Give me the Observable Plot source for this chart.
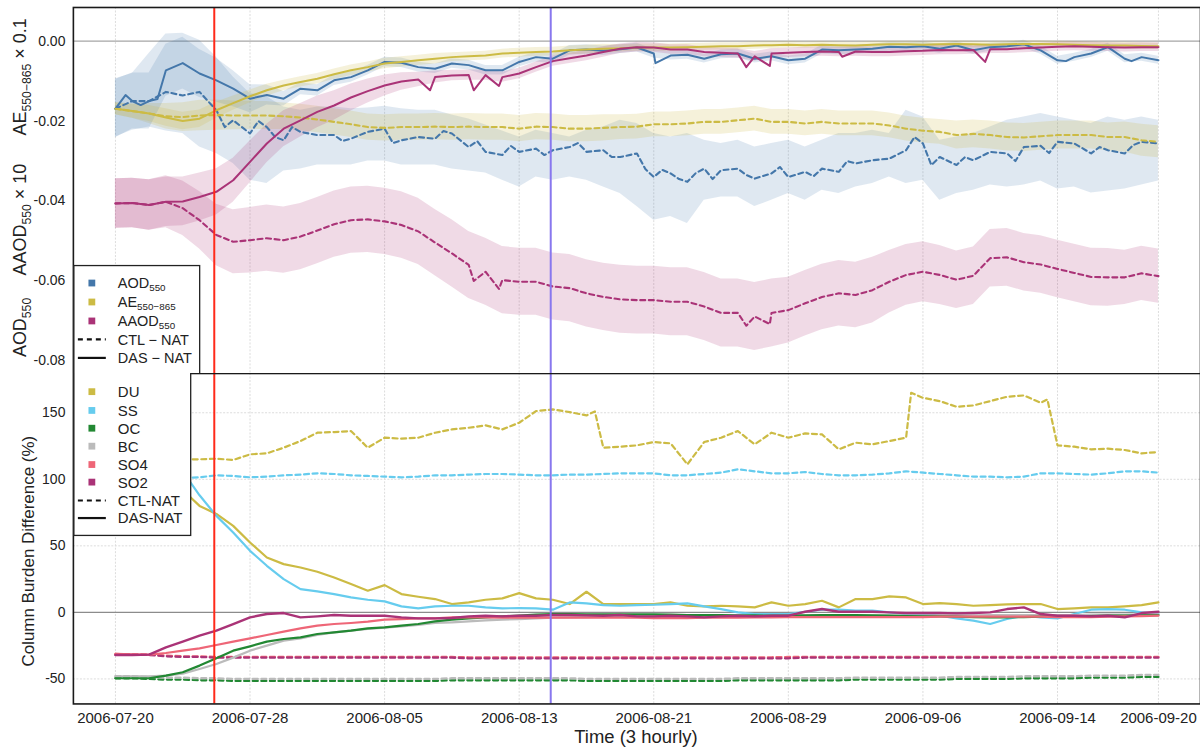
<!DOCTYPE html>
<html><head><meta charset="utf-8">
<script src="https://cdn.jsdelivr.net/npm/d3@7"></script>
<script src="https://cdn.jsdelivr.net/npm/@observablehq/plot@0.6"></script>
<style>
body{margin:0;background:#fff;}
#chart{width:1200px;height:752px;overflow:hidden;position:relative;background:#fff;}
#chart svg{display:block;}
</style></head><body><div id="chart"></div>
<script>
// ---------- time axis ----------
const startDate = "2006-07-20";            // first value of every daily array below
const tickDates = ["2006-07-20","2006-07-28","2006-08-05","2006-08-13","2006-08-21","2006-08-29","2006-09-06","2006-09-14","2006-09-20"];
const markerDates = ["2006-07-25T21:00Z","2006-08-14T21:00Z"];
const xDomainDates = ["2006-07-17T12:00Z","2006-09-22T12:00Z"];
const topTicks = [0, -0.02, -0.04, -0.06, -0.08];
const topDomain = [-0.08325, 0.00842];
const bottomTicks = [-50, 0, 50, 100, 150];
const bottomDomain = [-68.8, 179.5];

// ---------- top panel (daily readings) ----------
const aodDAS = [-0.0169,-0.0150,-0.0150,-0.0073,-0.0055,-0.0081,-0.0098,-0.0119,-0.0144,-0.0135,
-0.0144,-0.0119,-0.0123,-0.0098,-0.0090,-0.0073,-0.0052,-0.0054,-0.0065,-0.0069,
-0.0056,-0.0060,-0.0073,-0.0073,-0.0052,-0.0040,-0.0044,-0.0023,-0.0021,-0.0024,
-0.0020,-0.0016,-0.0031,-0.0036,-0.0034,-0.0044,-0.0033,-0.0031,-0.0044,-0.0038,
-0.0048,-0.0044,-0.0021,-0.0023,-0.0021,-0.0019,-0.0014,-0.0015,-0.0013,-0.0019,
-0.0011,-0.0023,-0.0015,-0.0013,-0.0008,-0.0023,-0.0048,-0.0040,-0.0031,-0.0015,
-0.0044,-0.0040,-0.0048];
// short-lived excursions read between the daily samples: [day offset, value]
const aodDASspikes = [[0.6,-0.0135],[1.5,-0.0160],[2.5,-0.0145],[32.1,-0.0055],[56.5,-0.0050],[60.4,-0.0050]];
const aodDASspread = [0.0073,0.0070,0.0070,0.0065,0.0065,0.0060,0.0055,0.0045,0.0035,0.0025,
0.0018,0.0015,0.0014,0.0013,0.0013,0.0012,0.0012,0.0012,0.0012,0.0012,
0.0012,0.0012,0.0012,0.0012,0.0012,0.0012,0.0012,0.0012,0.0012,0.0012,
0.0011,0.0011,0.0011,0.0011,0.0011,0.0011,0.0011,0.0011,0.0011,0.0011,
0.0011,0.0011,0.0011,0.0011,0.0011,0.0011,0.0011,0.0011,0.0011,0.0011,
0.0010,0.0010,0.0010,0.0010,0.0010,0.0010,0.0010,0.0010,0.0010,0.0010,
0.0010,0.0010,0.0010];
const aodCTL = [-0.0169,-0.0150,-0.0150,-0.0127,-0.0136,-0.0127,-0.0173,-0.0198,-0.0231,-0.0215,
-0.0248,-0.0227,-0.0235,-0.0235,-0.0244,-0.0227,-0.0219,-0.0248,-0.0240,-0.0244,
-0.0231,-0.0265,-0.0277,-0.0285,-0.0277,-0.0269,-0.0273,-0.0265,-0.0277,-0.0273,
-0.0290,-0.0281,-0.0340,-0.0331,-0.0352,-0.0319,-0.0323,-0.0319,-0.0344,-0.0331,
-0.0340,-0.0327,-0.0319,-0.0327,-0.0306,-0.0298,-0.0294,-0.0273,-0.0256,-0.0290,
-0.0310,-0.0298,-0.0277,-0.0281,-0.0265,-0.0262,-0.0252,-0.0256,-0.0281,-0.0273,
-0.0281,-0.0252,-0.0256];
const aodCTLspikes = [[5.5,-0.0150],[6.5,-0.0215],[8.5,-0.0200],[9.5,-0.0240],[10.5,-0.0215],[13.5,-0.0250],[16.5,-0.0255],[19.5,-0.0225],[21.5,-0.0250],[23.5,-0.0262],
[25.5,-0.0285],[27.5,-0.0255],[29.5,-0.0290],[31.5,-0.0320],[32.5,-0.0322],[33.5,-0.0345],[34.5,-0.0330],[35.5,-0.0345],[37.5,-0.0335],[39.5,-0.0315],
[41.5,-0.0338],[43.5,-0.0300],[47.5,-0.0240],[48.5,-0.0310],[50.5,-0.0290],[53.5,-0.0300],[55.5,-0.0280],[58.5,-0.0265],[60.5,-0.0260]];
const aodCTLlo = [-0.0240,-0.0223,-0.0215,-0.0225,-0.0231,-0.0265,-0.0281,-0.0306,-0.0348,-0.0356,
-0.0325,-0.0320,-0.0310,-0.0310,-0.0310,-0.0300,-0.0300,-0.0310,-0.0310,-0.0310,
-0.0320,-0.0325,-0.0330,-0.0348,-0.0365,-0.0340,-0.0348,-0.0340,-0.0348,-0.0365,
-0.0381,-0.0414,-0.0448,-0.0439,-0.0456,-0.0398,-0.0390,-0.0390,-0.0414,-0.0398,
-0.0381,-0.0398,-0.0373,-0.0381,-0.0365,-0.0356,-0.0340,-0.0356,-0.0348,-0.0398,
-0.0381,-0.0373,-0.0360,-0.0365,-0.0360,-0.0350,-0.0370,-0.0365,-0.0380,-0.0375,
-0.0370,-0.0360,-0.0350];
const aodCTLhi = [-0.0094,-0.0081,-0.0031,0.0018,0.0020,0.0002,-0.0040,-0.0090,-0.0131,-0.0139,
-0.0165,-0.0173,-0.0165,-0.0165,-0.0169,-0.0167,-0.0163,-0.0169,-0.0173,-0.0173,
-0.0185,-0.0195,-0.0210,-0.0225,-0.0240,-0.0223,-0.0231,-0.0240,-0.0223,-0.0215,
-0.0198,-0.0206,-0.0231,-0.0240,-0.0231,-0.0248,-0.0256,-0.0248,-0.0265,-0.0256,
-0.0248,-0.0265,-0.0248,-0.0231,-0.0231,-0.0223,-0.0231,-0.0173,-0.0190,-0.0248,
-0.0240,-0.0231,-0.0215,-0.0198,-0.0190,-0.0181,-0.0190,-0.0198,-0.0206,-0.0190,
-0.0198,-0.0190,-0.0198];
const aeDAS = [-0.0169,-0.0175,-0.0181,-0.0191,-0.0200,-0.0194,-0.0173,-0.0155,-0.0138,-0.0123,
-0.0111,-0.0102,-0.0094,-0.0083,-0.0073,-0.0065,-0.0056,-0.0052,-0.0048,-0.0044,
-0.0040,-0.0038,-0.0036,-0.0031,-0.0029,-0.0027,-0.0026,-0.0023,-0.0021,-0.0019,
-0.0018,-0.0016,-0.0016,-0.0016,-0.0015,-0.0014,-0.0013,-0.0013,-0.0011,-0.0010,
-0.0009,-0.0010,-0.0009,-0.0010,-0.0011,-0.0009,-0.0008,-0.0008,-0.0009,-0.0008,
-0.0007,-0.0008,-0.0009,-0.0008,-0.0007,-0.0007,-0.0008,-0.0009,-0.0010,-0.0011,
-0.0011,-0.0012,-0.0013];
const aeDASspread = [0.0015,0.0018,0.0020,0.0022,0.0022,0.0022,0.0020,0.0018,0.0016,0.0015,
0.0013,0.0013,0.0013,0.0013,0.0013,0.0013,0.0013,0.0013,0.0013,0.0013,
0.0011,0.0011,0.0011,0.0011,0.0011,0.0011,0.0011,0.0011,0.0011,0.0011,
0.0009,0.0009,0.0009,0.0009,0.0009,0.0009,0.0009,0.0009,0.0009,0.0009,
0.0008,0.0008,0.0008,0.0008,0.0008,0.0008,0.0008,0.0008,0.0008,0.0008,
0.0008,0.0008,0.0008,0.0008,0.0008,0.0008,0.0008,0.0008,0.0008,0.0008,
0.0008,0.0008,0.0008];
const aeCTL = [-0.0169,-0.0175,-0.0181,-0.0188,-0.0190,-0.0186,-0.0185,-0.0186,-0.0186,-0.0186,
-0.0188,-0.0191,-0.0196,-0.0202,-0.0208,-0.0215,-0.0217,-0.0215,-0.0215,-0.0214,
-0.0215,-0.0214,-0.0215,-0.0215,-0.0219,-0.0214,-0.0215,-0.0219,-0.0219,-0.0217,
-0.0215,-0.0214,-0.0208,-0.0208,-0.0206,-0.0202,-0.0202,-0.0198,-0.0194,-0.0202,
-0.0202,-0.0206,-0.0202,-0.0206,-0.0206,-0.0206,-0.0211,-0.0219,-0.0224,-0.0227,
-0.0235,-0.0232,-0.0235,-0.0240,-0.0241,-0.0238,-0.0235,-0.0235,-0.0235,-0.0240,
-0.0240,-0.0248,-0.0252];
const aeCTLspread = [0.0015,0.0018,0.0025,0.0032,0.0036,0.0038,0.0038,0.0036,0.0035,0.0035,
0.0033,0.0033,0.0033,0.0033,0.0033,0.0033,0.0033,0.0033,0.0033,0.0033,
0.0033,0.0033,0.0033,0.0033,0.0033,0.0033,0.0033,0.0033,0.0033,0.0033,
0.0031,0.0031,0.0031,0.0031,0.0031,0.0031,0.0031,0.0031,0.0031,0.0031,
0.0031,0.0031,0.0031,0.0031,0.0031,0.0031,0.0031,0.0031,0.0031,0.0031,
0.0035,0.0035,0.0035,0.0035,0.0035,0.0035,0.0035,0.0035,0.0035,0.0035,
0.0038,0.0040,0.0040];
const aaodDAS = [-0.0406,-0.0405,-0.0410,-0.0402,-0.0401,-0.0390,-0.0377,-0.0348,-0.0302,-0.0256,
-0.0219,-0.0198,-0.0177,-0.0161,-0.0141,-0.0125,-0.0111,-0.0101,-0.0096,-0.0090,
-0.0086,-0.0085,-0.0085,-0.0090,-0.0081,-0.0065,-0.0050,-0.0043,-0.0036,-0.0027,
-0.0019,-0.0015,-0.0016,-0.0021,-0.0021,-0.0027,-0.0029,-0.0031,-0.0038,-0.0031,
-0.0029,-0.0027,-0.0026,-0.0027,-0.0026,-0.0027,-0.0027,-0.0025,-0.0024,-0.0022,
-0.0023,-0.0022,-0.0020,-0.0020,-0.0018,-0.0016,-0.0014,-0.0013,-0.0014,-0.0015,
-0.0016,-0.0015,-0.0015];
const aaodDASspikes = [[18.7,-0.0123],[21.3,-0.0123],[22.8,-0.0112],[37.5,-0.0065],[38.9,-0.0062],[43.2,-0.0039],[51.7,-0.0052]];
const aaodDASspread = [0.0062,0.0062,0.0063,0.0062,0.0061,0.0060,0.0058,0.0055,0.0052,0.0048,
0.0045,0.0042,0.0040,0.0037,0.0034,0.0030,0.0026,0.0022,0.0018,0.0015,
0.0013,0.0013,0.0013,0.0013,0.0013,0.0013,0.0013,0.0013,0.0013,0.0013,
0.0012,0.0012,0.0012,0.0012,0.0012,0.0012,0.0012,0.0012,0.0012,0.0012,
0.0012,0.0012,0.0012,0.0012,0.0012,0.0012,0.0012,0.0012,0.0012,0.0012,
0.0011,0.0011,0.0011,0.0011,0.0011,0.0011,0.0011,0.0011,0.0011,0.0011,
0.0011,0.0011,0.0011];
const aaodCTL = [-0.0406,-0.0405,-0.0410,-0.0402,-0.0418,-0.0448,-0.0485,-0.0502,-0.0498,-0.0493,
-0.0498,-0.0489,-0.0474,-0.0458,-0.0448,-0.0446,-0.0451,-0.0460,-0.0476,-0.0504,
-0.0531,-0.0560,-0.0577,-0.0598,-0.0602,-0.0602,-0.0614,-0.0618,-0.0631,-0.0640,
-0.0646,-0.0648,-0.0648,-0.0652,-0.0652,-0.0664,-0.0680,-0.0680,-0.0689,-0.0680,
-0.0673,-0.0656,-0.0640,-0.0631,-0.0635,-0.0623,-0.0602,-0.0585,-0.0577,-0.0585,
-0.0597,-0.0587,-0.0543,-0.0541,-0.0553,-0.0559,-0.0570,-0.0580,-0.0590,-0.0591,
-0.0591,-0.0581,-0.0588];
const aaodCTLspikes = [[21.3,-0.0600],[22.8,-0.0620],[37.5,-0.0712],[38.9,-0.0708]];
const aaodCTLspread = [0.0062,0.0062,0.0063,0.0065,0.0068,0.0072,0.0077,0.0080,0.0082,0.0083,
0.0083,0.0083,0.0083,0.0083,0.0083,0.0083,0.0083,0.0083,0.0083,0.0083,
0.0084,0.0084,0.0084,0.0084,0.0084,0.0084,0.0084,0.0084,0.0084,0.0084,
0.0085,0.0085,0.0085,0.0085,0.0085,0.0085,0.0085,0.0085,0.0085,0.0085,
0.0082,0.0082,0.0082,0.0082,0.0082,0.0082,0.0078,0.0076,0.0075,0.0074,
0.0072,0.0072,0.0072,0.0072,0.0072,0.0072,0.0072,0.0072,0.0072,0.0072,
0.0068,0.0068,0.0068];

// ---------- bottom panel (daily readings, %) ----------
const duCTL = [115,115,115,115,115,115,115.5,114.5,118.75,119.5,
123.75,128.75,135,135.5,136.25,123.75,131.25,130.5,131.25,135,
137.5,138.75,140.5,137.5,142.5,151.25,152.5,150.5,148,123.75,
124.5,125.5,128,127,111.25,128,131.25,136.25,126.25,135,
131.25,134.5,133.75,122.5,127.5,126.25,128.75,131.25,161.25,158.75,
154.5,155.5,158.75,162,163,157.5,125.5,124.5,122.5,123,
122,119.5,120.5];
const duCTLspikes = [[47.3,165],[28.5,151],[55.4,160]];
const ssCTL = [101,101,101,101,101,101.5,103,102.5,101.5,102,
103,103.5,104.5,104,103,102.5,102,101.5,102,103,
103,103.5,104,104,103.5,103,103,103.5,103.5,104,
104.5,104.5,104.5,103,103,104,105,107.5,106,104.5,
104.5,105.5,104,103,103,103.5,104.5,106,105,104,
103,102,102,101.5,102,104.5,104.5,104,103.5,104.5,
106,106,105];
const ocCTL = [-49.5,-49.5,-50,-50.5,-50.5,-51,-51,-51.5,-51.5,-51.5,
-51.5,-51.5,-51.5,-51.5,-51.5,-51.5,-51.5,-51.5,-51.5,-51.5,
-51,-51,-51,-51,-51,-51,-51,-51,-51.5,-51.5,
-51.5,-51.5,-51.5,-51.5,-51.5,-51.5,-51.5,-51,-51,-51,
-51,-51,-51,-51,-50.5,-50.5,-50.5,-50.5,-50.5,-50.5,
-50,-50,-50,-50,-49.5,-49.5,-49.5,-49.5,-49,-49,
-49,-48.5,-48.5];
const bcCTL = [-48,-48,-48.5,-49,-49,-49.5,-49.5,-50,-50,-50,
-50,-50,-50,-50,-50,-50,-50,-50,-50,-50,
-49.5,-49.5,-49.5,-49.5,-49.5,-49.5,-49.5,-49.5,-50,-50,
-50,-50,-50,-50,-50,-50,-50,-49.5,-49.5,-49.5,
-49.5,-49.5,-49.5,-49.5,-49,-49,-49,-49,-49,-49,
-48.5,-48.5,-48.5,-48.5,-48,-48,-48,-48,-47.5,-47.5,
-47.5,-47,-47];
const so4CTL = [-31.25,-31.5,-31.75,-32.5,-33,-33,-33.5,-33.5,-33.5,-33.5,
-33.5,-33.5,-33.5,-33.5,-33.5,-33.5,-33.5,-33.5,-33.5,-33.5,
-33.5,-33.75,-33.75,-33.75,-33.75,-33.75,-33.75,-33.75,-33.75,-33.75,
-33.75,-33.75,-33.75,-33.75,-33.75,-33.75,-33.75,-33.75,-33.75,-33.75,
-33.5,-33.5,-33.5,-33.5,-33.5,-33.5,-33.5,-33.5,-33.5,-33.5,
-33.5,-33.5,-33.5,-33.5,-33.5,-33.5,-33.5,-33.5,-33.5,-33.5,
-33.5,-33.5,-33.5];
const so2CTL = [-32,-32,-32,-33,-33.5,-33.5,-34,-34,-34,-34,
-34,-34,-34,-34,-34,-34,-34,-34,-34,-34,
-34,-34.5,-34.5,-34.5,-34.5,-34.5,-34.5,-34.5,-34.5,-34.5,
-34.5,-34.5,-34.5,-34.5,-34.5,-34.5,-34.5,-34.5,-34.5,-34.5,
-34.5,-34,-34,-34,-34,-34,-34,-34,-34,-34,
-34,-34,-34,-34,-34,-34,-34,-34,-34,-34,
-34,-34,-34];
const duDAS = [115,115,110,100,92,80,74,65,52.5,41.25,
36.25,33.75,30.5,26.25,21.25,16.25,20.5,13.75,11.75,10,
6.25,7.5,9.5,10.5,14.5,10.5,9.5,6.25,15.5,6.25,
6.25,6.25,6.25,7.5,5,4.5,5,4.5,3.75,7.5,
5,6.25,8.75,3.75,10,10,12,11.25,6.25,7,
6.25,5,5.5,6,6.25,6.25,2.5,3,3.75,3.75,
4.5,5.5,7.5];
const ssDAS = [101,101,104,110,106,88,72.5,60,46.25,35,
25,17.5,15.75,13.75,11.25,9.5,8.25,4.5,3,4.5,
5,5,3.75,3,3.25,3,2,7.5,6.75,5.5,
5,5.5,5.75,6.25,6.75,4.5,2.5,0,-1.25,-1.25,
-1.25,0.5,2,2,1.25,1.25,0,-1.25,-1.25,-2.5,
-4.5,-6.25,-8.75,-5,-2.5,-3.75,-4.5,-1.25,2,2.5,
2,0,-1.25];
const ocDAS = [-49.5,-49.5,-49.5,-47.5,-45,-40,-34.5,-28.75,-25.5,-22,
-20,-18.75,-16.25,-15,-13.75,-12,-11.25,-10,-8.75,-6.75,
-5.5,-4.5,-3.75,-3,-2.5,-1.75,-1.25,-1.25,-1.5,-1.5,
-1.5,-1.5,-1.5,-1.75,-2,-2,-2,-2.25,-2.25,-2.5,
-2.5,-2.25,-2,-2,-2,-2.25,-2.5,-2.75,-3,-3,
-3.25,-3.5,-3.75,-3.75,-3.5,-3.25,-3,-3,-2.75,-2.5,
-2.5,-2.25,-2];
const bcDAS = [-48,-48,-48,-47.5,-46,-42.5,-38.75,-34,-28.75,-25,
-21.25,-19.5,-17,-15,-13.75,-12.5,-11.5,-10.5,-9.5,-8,
-7.5,-6.75,-6,-5.5,-5,-4.5,-4,-3.75,-3.5,-3.25,
-3,-3,-3,-3,-3,-2.75,-2.75,-2.75,-2.75,-2.75,
-2.5,-2.5,-2.5,-2.5,-2.5,-2.5,-2.5,-2.5,-2.5,-2.25,
-2.25,-2.25,-2,-2,-2,-2,-2,-2,-1.75,-1.75,
-1.75,-1.5,-1.5];
const so4DAS = [-31.25,-31.5,-31.75,-30.5,-28.75,-27,-24.5,-22,-19.5,-17,
-14.5,-12,-10,-8.75,-8,-7,-5.5,-5,-4.5,-4.5,
-3.75,-3.75,-3.75,-4,-4,-4,-4,-4,-4,-4,
-4,-4,-4.25,-4.25,-4.25,-4,-4,-4,-3.75,-3.75,
-3.5,-3.5,-3.5,-3.5,-3.5,-3.5,-3.5,-3.5,-3.5,-3.25,
-3.25,-3.25,-3.25,-3.25,-3.25,-3.25,-3.5,-3.5,-3.5,-3.25,
-3,-2.75,-2.5];
const so2DAS = [-32,-32,-31.75,-26.25,-22,-17.5,-13.75,-8.75,-3.75,-1.25,
-0.5,-3.75,-3,-2,-2.5,-2.5,-2.5,-3.75,-4.5,-4.5,
-4.25,-3,-2.5,-3,-2.5,-2.5,-2,-2,-2.25,-2.5,
-2,-3,-3,-2.5,-3,-3.75,-3,-2.5,-3,-2.5,
-2.5,0.5,2.5,0.5,0.5,0.5,0,-0.5,-0.5,-0.5,
-0.75,-0.5,0,2.5,3.75,-1.25,-2.5,-2.5,-3,-2.5,
-3.75,-0.5,0.5];

// ---------- colours ----------
const C = {aod:"#4477AA", ae:"#CCBB44", aaod:"#AA3377", du:"#CCBB44", ss:"#66CCEE", oc:"#228833", bc:"#BBBBBB", so4:"#EE6677", so2:"#AA3377"};
const markerColors = ["#ff2a1a", "#8877ee"];

// ---------- helpers ----------
const DAY = 864e5;
const t0 = Date.parse(startDate + "T00:00Z");
const dayDate = i => new Date(t0 + i * DAY);
const rowsOf = (vals, extra) => vals.map((v, i) => ({date: dayDate(i), v}))
  .concat((extra || []).map(([d, v]) => ({date: dayDate(d), v})))
  .sort((a, b) => a.date - b.date);
const bandSpread = (vals, s) => vals.map((v, i) => ({date: dayDate(i), lo: v - s[i], hi: v + s[i]}));
const bandLoHi = (lo, hi) => lo.map((l, i) => ({date: dayDate(i), lo: l, hi: hi[i]}));
const tickD = tickDates.map(d => new Date(d + "T00:00Z"));
const xDomain = xDomainDates.map(d => new Date(d));
const markers = markerDates.map(d => new Date(d));
const FONT = '"Liberation Sans", Arial, Helvetica, sans-serif';
const DASH = "5,3.6";

function area(data, color, op) { return Plot.areaY(data, {x: "date", y1: "lo", y2: "hi", fill: color, fillOpacity: op}); }
function line(vals, color, dashed, w, extra) {
  return Plot.lineY(rowsOf(vals, extra), {x: "date", y: "v", stroke: color, strokeWidth: w || 2, strokeDasharray: dashed ? DASH : null});
}
function markerRules() { return markers.map((m, i) => Plot.ruleX([m], {stroke: markerColors[i], strokeWidth: 2})); }

// ---------- top plot ----------
const topPlot = Plot.plot({
  width: 1202, height: 374, marginLeft: 73, marginRight: 0, marginTop: 7, marginBottom: 0,
  style: {fontFamily: FONT, fontSize: "14px", color: "#222", background: "white"},
  x: {type: "utc", domain: xDomain, axis: null},
  y: {domain: topDomain, ticks: topTicks, tickFormat: d => d.toFixed(2), tickSize: 0, tickPadding: 8, label: null},
  marks: [
    Plot.ruleX(tickD, {stroke: "#dcdcdc", strokeWidth: 1, strokeDasharray: "2,1.5"}),
    Plot.ruleY([0], {stroke: "#a6a6a6", strokeWidth: 1.4}),
    area(bandLoHi(aodCTLlo, aodCTLhi), C.aod, 0.17),
    area(bandSpread(aeCTL, aeCTLspread), C.ae, 0.2),
    area(bandSpread(aaodCTL, aaodCTLspread), C.aaod, 0.18),
    area(bandSpread(aodDAS, aodDASspread), C.aod, 0.17),
    area(bandSpread(aeDAS, aeDASspread), C.ae, 0.2),
    area(bandSpread(aaodDAS, aaodDASspread), C.aaod, 0.18),
    line(aodCTL, C.aod, true, 2.1, aodCTLspikes), line(aeCTL, C.ae, true, 2.1), line(aaodCTL, C.aaod, true, 2.1, aaodCTLspikes),
    line(aodDAS, C.aod, false, 2, aodDASspikes), line(aeDAS, C.ae, false), line(aaodDAS, C.aaod, false, 2, aaodDASspikes),
    ...markerRules(),
    Plot.frame({stroke: "#1a1a1a", strokeWidth: 1.6})
  ]
});

// ---------- bottom plot ----------
const bottomPlot = Plot.plot({
  width: 1202, height: 378, marginLeft: 73, marginRight: 0, marginTop: 0, marginBottom: 47,
  style: {fontFamily: FONT, fontSize: "14px", color: "#222", background: "white"},
  x: {type: "utc", domain: xDomain, ticks: tickD, tickFormat: d3.utcFormat("%Y-%m-%d"), tickSize: 0, tickPadding: 8, label: null},
  y: {domain: bottomDomain, ticks: bottomTicks, tickFormat: d => String(d), tickSize: 0, tickPadding: 8, label: null},
  marks: [
    Plot.ruleX(tickD, {stroke: "#dcdcdc", strokeWidth: 1, strokeDasharray: "2,1.5"}),
    Plot.ruleY(bottomTicks.filter(t => t !== 0), {stroke: "#dcdcdc", strokeWidth: 1, strokeDasharray: "2,1.5"}),
    Plot.ruleY([0], {stroke: "#8c8c8c", strokeWidth: 1.3}),
    line(ocCTL, C.oc, true, 2.3), line(bcCTL, C.bc, true, 2.3), line(so4CTL, C.so4, true, 2.3), line(so2CTL, C.so2, true, 2.3),
    line(duCTL, C.du, true, 2.2, duCTLspikes), line(ssCTL, C.ss, true, 2.2),
    line(duDAS, C.du, false, 2.2), line(ssDAS, C.ss, false, 2.2), line(bcDAS, C.bc, false, 2.2),
    line(ocDAS, C.oc, false, 2.2), line(so4DAS, C.so4, false, 2.2), line(so2DAS, C.so2, false, 2.4),
    ...markerRules(),
    Plot.frame({stroke: "#1a1a1a", strokeWidth: 1.6})
  ]
});

const chart = document.getElementById("chart");
chart.appendChild(topPlot);
chart.appendChild(bottomPlot);

// ---------- text helpers ----------
function rich(textSel, parts, fs, shift) {
  const k = shift == null ? 0.3 : shift;
  let low = false;
  for (const p of parts) {
    const ts = textSel.append("tspan").text(p[0]);
    const sub = p[1] === "sub";
    if (sub) ts.style("font-size", (0.68 * fs) + "px");
    if (sub && !low) { ts.attr("dy", k * fs); low = true; }
    else if (!sub && low) { ts.attr("dy", -k * fs); low = false; }
  }
}
function rotLabel(svg, x, y, parts, fs) {
  const t = svg.append("text").attr("transform", `translate(${x},${y}) rotate(-90)`)
    .attr("text-anchor", "middle").style("font-family", FONT).style("font-size", fs + "px").attr("fill", "#222");
  rich(t, parts, fs);
}
function legend(svg, box, items, fs) {
  const g = svg.append("g").style("font-family", FONT).style("font-size", fs + "px");
  g.append("rect").attr("x", box[0]).attr("y", box[1]).attr("width", box[2]).attr("height", box[3])
    .attr("fill", "white").attr("stroke", "#222").attr("stroke-width", 1.3);
  for (const it of items) {
    if (it.color) {
      g.append("rect").attr("x", 88.6).attr("y", it.y - 3.4).attr("width", 6.8).attr("height", 6.8).attr("fill", it.color);
    } else {
      g.append("line").attr("x1", 78).attr("x2", 106).attr("y1", it.y).attr("y2", it.y)
        .attr("stroke", "#111").attr("stroke-width", 2.2).attr("stroke-dasharray", it.dash ? "5,4" : null);
    }
    const t = g.append("text").attr("x", 118).attr("y", it.y).attr("dy", "0.36em")
      .attr("text-anchor", "start").attr("fill", "#222");
    rich(t, it.parts, fs, 0.2);
  }
}

// ---------- top overlays ----------
const sTop = d3.select(topPlot);
rotLabel(sTop, 26, 328, [["AOD"], ["550", "sub"]], 18);
rotLabel(sTop, 26, 220, [["AAOD"], ["550", "sub"], [" × 10"]], 18);
rotLabel(sTop, 26, 77, [["AE"], ["550−865", "sub"], [" × 0.1"]], 18);
legend(sTop, [74, 266, 126, 110], [
  {y: 283.5, color: C.aod, parts: [["AOD"], ["550", "sub"]]},
  {y: 302.5, color: C.ae, parts: [["AE"], ["550−865", "sub"]]},
  {y: 321.5, color: C.aaod, parts: [["AAOD"], ["550", "sub"]]},
  {y: 340, dash: true, parts: [["CTL − NAT"]]},
  {y: 358.5, dash: false, parts: [["DAS − NAT"]]}
], 14.5);

// ---------- bottom overlays ----------
const sBot = d3.select(bottomPlot);
sBot.selectAll('g[aria-label^="x-axis"] text').style("font-size", "15px");
rotLabel(sBot, 34, 178.5, [["Column Burden Difference (%)"]], 17);
sBot.append("text").attr("x", 637).attr("y", 371).attr("text-anchor", "middle")
  .style("font-family", FONT).style("font-size", "18.5px").attr("fill", "#222").text("Time (3 hourly)");
legend(sBot, [74, -2, 117, 164.7], [
  {y: 18.7, color: C.du, parts: [["DU"]]},
  {y: 37.5, color: C.ss, parts: [["SS"]]},
  {y: 55.3, color: C.oc, parts: [["OC"]]},
  {y: 73.3, color: C.bc, parts: [["BC"]]},
  {y: 91.7, color: C.so4, parts: [["SO4"]]},
  {y: 109.3, color: C.so2, parts: [["SO2"]]},
  {y: 127.7, dash: true, parts: [["CTL-NAT"]]},
  {y: 145.3, dash: false, parts: [["DAS-NAT"]]}
], 15);
</script>
</body></html>
